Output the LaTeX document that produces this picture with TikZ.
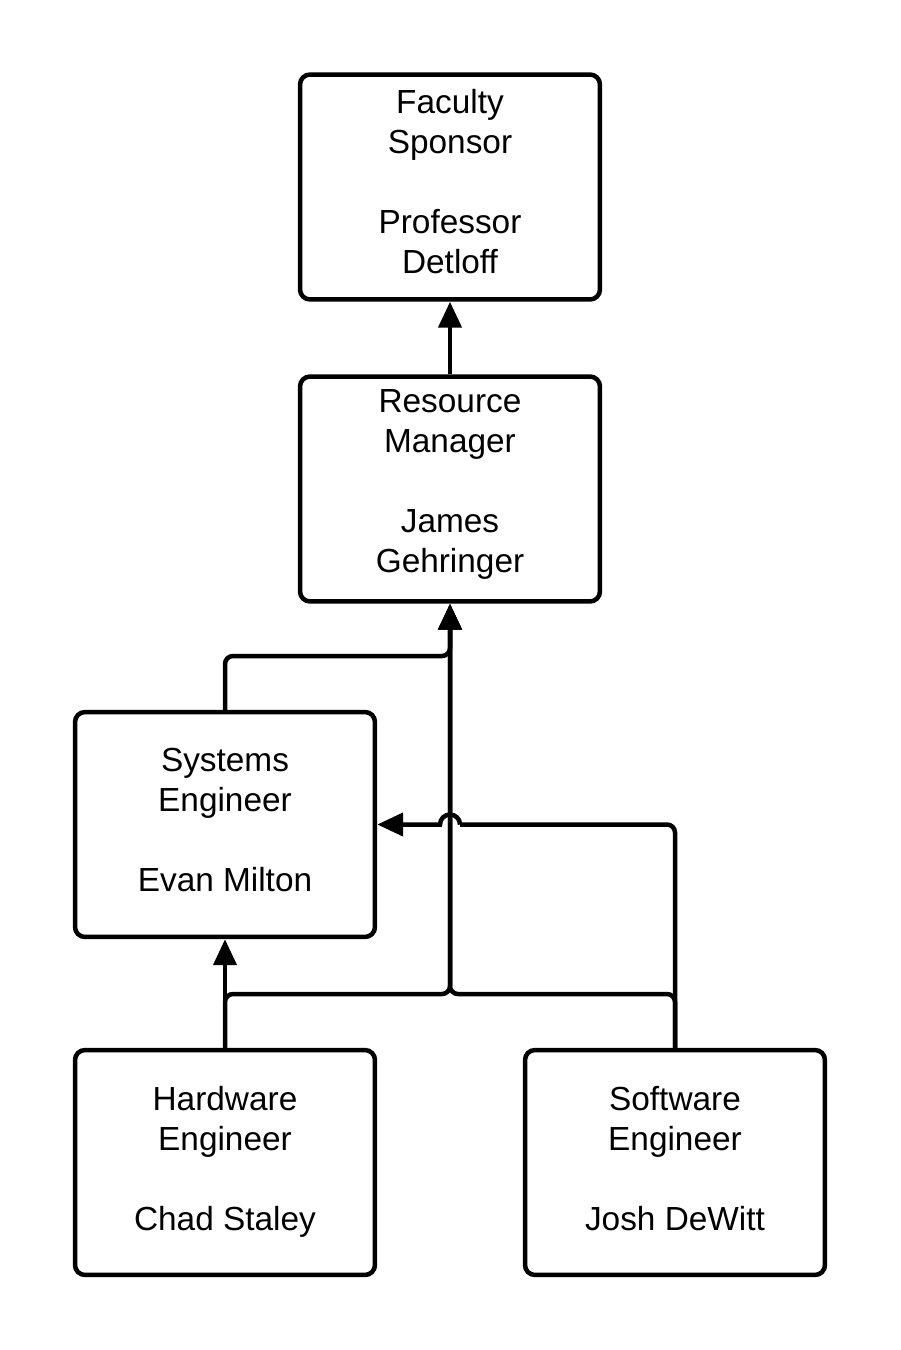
\documentclass[tikz,border=0pt]{standalone}
\usepackage{fontspec}
\setmainfont{Liberation Sans}
\usetikzlibrary{arrows.meta}
\begin{document}
\begin{tikzpicture}[x=0.02cm,y=-0.02cm,
  box/.style={draw=black,line width=0.09cm,rounded corners=0.2cm,minimum width=6cm,minimum height=4.5cm,inner sep=0pt},
  lbl/.style={anchor=north,align=center,inner sep=0pt,font=\fontsize{19pt}{22.76pt}\selectfont},
  conn/.style={line width=0.09cm,rounded corners=0.16cm},
  tip/.style={-{Triangle[length=0.52cm,width=0.46cm]}},
  arr/.style={conn,tip}]
\useasboundingbox (0,0) rectangle (900,1350);
\node[box] (fs) at (450,187) {};
\node[box] (rm) at (450,489) {};
\node[box] (se) at (225,824.5) {};
\node[box] (hw) at (225,1162.5) {};
\node[box] (sw) at (675,1162.5) {};
\node[lbl] (fst) at (450,89) {Faculty\\Sponsor\\[22.76pt]Professor\\Detloff};
\node[lbl] (rmt) at (450,389) {Resource\\Manager\\[22.76pt]James\\Gehringer};
\node[lbl] (set) at (225,748) {Systems\\Engineer\\[22.76pt]Evan Milton};
\node[lbl] (hwt) at (225,1086) {Hardware\\Engineer\\[22.76pt]Chad Staley};
\node[lbl] (swt) at (675,1086) {Software\\Engineer\\[22.76pt]Josh DeWitt};
\coordinate (jt) at (450,656);
\coordinate (jb) at (450,994);
\coordinate (hop) at (460,824.5);
\draw[arr] (rm.north) -- (fs.south);
\draw[arr] (se.north) |- (jt) -- (rm.south);
\draw[arr] (hw.north) -- (se.south);
\draw[arr] (hw.north) |- (jb) -- (rm.south);
\draw[arr] (sw.north) |- (jb) -- (rm.south);
\draw[conn] (sw.north) |- (hop);
\draw[line width=0.09cm,tip] (hop) arc[start angle=0,end angle=180,radius=0.2cm] -- (se.east);
\end{tikzpicture}
\end{document}
